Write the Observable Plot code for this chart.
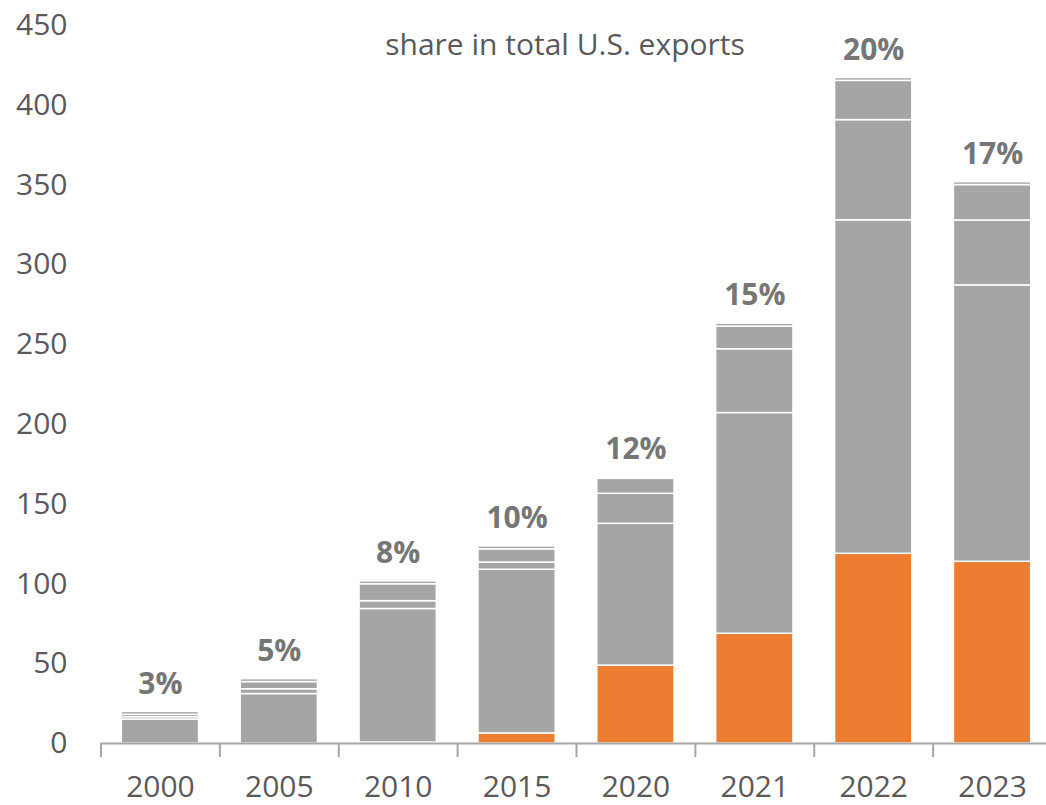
<!DOCTYPE html>
<html>
<head>
<meta charset="utf-8">
<script src="https://cdn.jsdelivr.net/npm/d3@7"></script>
<script src="https://cdn.jsdelivr.net/npm/@observablehq/plot@0.6"></script>
<style>
  html, body { margin: 0; padding: 0; background: #fff; }
  #chart svg { display: block; }
</style>
</head>
<body>
<div id="chart"></div>
<script>
// Categories
const years = ["2000", "2005", "2010", "2015", "2020", "2021", "2022", "2023"];
// Stacked series (bottom to top)
const seriesNames = ["Highlighted", "Component A", "Component B", "Component C", "Component D"];
const highlighted = [0, 0, 0.6, 6.3, 48.8, 68.8, 118.9, 113.9];
const componentA  = [15, 31, 83.7, 102.6, 88.9, 138.3, 209, 173.2];
const componentB  = [1.5, 3, 4.9, 4.5, 18.8, 40, 62.8, 40.7];
const componentC  = [1.5, 4.5, 10.6, 8.3, 9.4, 14.2, 24.6, 22.2];
const componentD  = [1.8, 1.8, 1.8, 1.8, 0.6, 1.8, 1.8, 1.8];
// Share labels
const shares = ["3%", "5%", "8%", "10%", "12%", "15%", "20%", "17%"];
const yTicks = [0, 50, 100, 150, 200, 250, 300, 350, 400, 450];
const annotation = "share in total U.S. exports";

const seriesValues = [highlighted, componentA, componentB, componentC, componentD];
const rows = [];
seriesNames.forEach((s, si) => {
  years.forEach((y, yi) => rows.push({year: y, series: s, value: seriesValues[si][yi]}));
});
const totals = years.map((y, i) => ({
  year: y,
  total: seriesValues.reduce((a, arr) => a + arr[i], 0),
  label: shares[i]
}));

const font = "'Open Sans', 'Noto Sans', sans-serif";
const textColor = "#595959";
const axisColor = "#a6a6a6";

const chart = Plot.plot({
  width: 1046,
  height: 805,
  marginLeft: 101,
  marginRight: 0,
  marginTop: 25,
  marginBottom: 62,
  style: {fontFamily: font, fontSize: "30px", color: textColor, background: "#fff"},
  x: {domain: years, range: [100.5, 1051.5], paddingInner: 0.35, paddingOuter: 0.175, round: false, label: null},
  y: {domain: [0, 450], label: null},
  color: {domain: seriesNames, range: ["#ed7d31", "#a5a5a5", "#a5a5a5", "#a5a5a5", "#a5a5a5"]},
  marks: [
    Plot.barY(rows, {x: "year", y: "value", fill: "series", order: seriesNames, stroke: "white", strokeWidth: 1.5}),
    Plot.ruleY([0], {stroke: axisColor, strokeWidth: 2}),
    Plot.axisY({ticks: yTicks, tickSize: 0, tickPadding: 34, fontSize: 30, fill: textColor, label: null}),
    Plot.axisX({tickSize: 14, tickFormat: () => "", dx: -59.44, stroke: axisColor, strokeWidth: 2, label: null}),
    Plot.axisX({tickSize: 0, tickPadding: 32, fontSize: 30, fill: textColor, label: null}),
    Plot.text(totals, {x: "year", y: "total", text: "label", dy: -28, fontSize: 30, fontWeight: "bold", fill: "#767676", lineAnchor: "middle"}),
    Plot.text([annotation], {frameAnchor: "top", dx: -9, dy: 20, fontSize: 30, fill: textColor, lineAnchor: "middle"})
  ]
});
document.getElementById("chart").append(chart);
</script>
</body>
</html>
